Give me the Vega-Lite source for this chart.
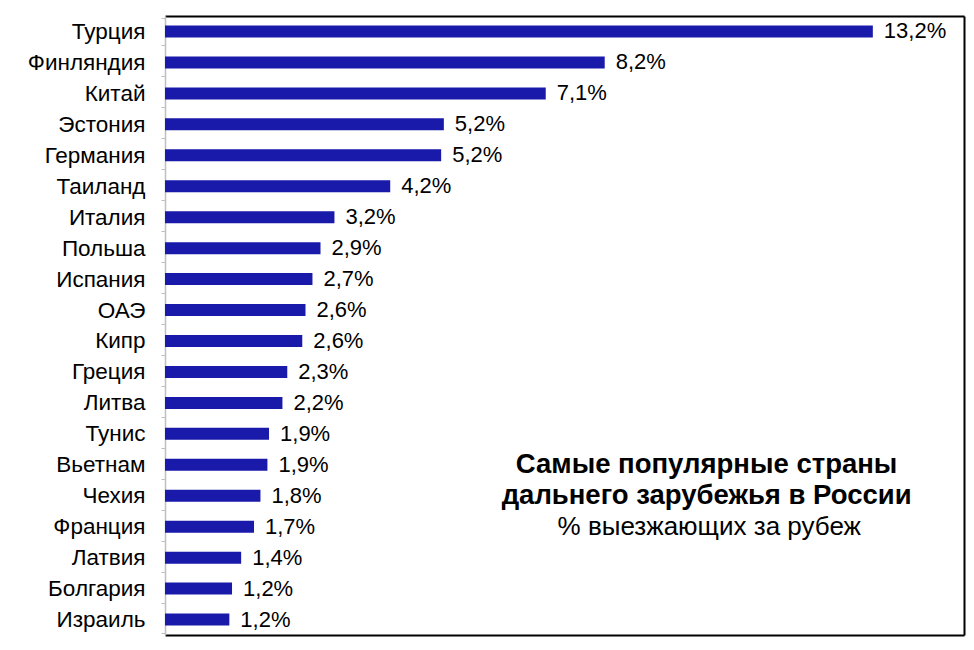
{
  "$schema": "https://vega.github.io/schema/vega-lite/v6.json",
  "width": 799,
  "height": 619,
  "autosize": {"type": "none"},
  "padding": {"left": 165, "top": 16, "right": 10, "bottom": 15},
  "background": "white",
  "data": {
    "values": [
      {"country": "Турция", "share": 13.2, "label": "13,2%"},
      {"country": "Финляндия", "share": 8.2, "label": "8,2%"},
      {"country": "Китай", "share": 7.1, "label": "7,1%"},
      {"country": "Эстония", "share": 5.2, "label": "5,2%"},
      {"country": "Германия", "share": 5.15, "label": "5,2%"},
      {"country": "Таиланд", "share": 4.2, "label": "4,2%"},
      {"country": "Италия", "share": 3.16, "label": "3,2%"},
      {"country": "Польша", "share": 2.9, "label": "2,9%"},
      {"country": "Испания", "share": 2.75, "label": "2,7%"},
      {"country": "ОАЭ", "share": 2.62, "label": "2,6%"},
      {"country": "Кипр", "share": 2.56, "label": "2,6%"},
      {"country": "Греция", "share": 2.28, "label": "2,3%"},
      {"country": "Литва", "share": 2.19, "label": "2,2%"},
      {"country": "Тунис", "share": 1.94, "label": "1,9%"},
      {"country": "Вьетнам", "share": 1.91, "label": "1,9%"},
      {"country": "Чехия", "share": 1.78, "label": "1,8%"},
      {"country": "Франция", "share": 1.66, "label": "1,7%"},
      {"country": "Латвия", "share": 1.42, "label": "1,4%"},
      {"country": "Болгария", "share": 1.25, "label": "1,2%"},
      {"country": "Израиль", "share": 1.2, "label": "1,2%"}
    ]
  },
  "layer": [
    {
      "mark": {"type": "bar", "color": "#1A1AAA", "size": 12},
      "encoding": {
        "y": {
          "field": "country",
          "type": "nominal",
          "sort": null,
          "title": null,
          "axis": {
            "orient": "left",
            "domainColor": "#BFBFBF",
            "domainWidth": 1.5,
            "tickColor": "#BFBFBF",
            "tickSize": 4,
            "tickBand": "extent",
            "labelFont": "Liberation Sans",
            "labelFontSize": 22.5,
            "labelColor": "black",
            "labelPadding": 16
          }
        },
        "x": {
          "field": "share",
          "type": "quantitative",
          "scale": {"domain": [0, 14.9], "nice": false},
          "title": null,
          "axis": {
            "orient": "bottom",
            "domainColor": "black",
            "domainWidth": 2,
            "labels": false,
            "ticks": false,
            "grid": false
          }
        }
      }
    },
    {
      "mark": {
        "type": "text",
        "align": "left",
        "baseline": "middle",
        "dx": 11,
        "font": "Liberation Sans",
        "fontSize": 22,
        "color": "black"
      },
      "encoding": {
        "y": {
          "field": "country",
          "type": "nominal",
          "sort": null,
          "axis": {
            "orient": "right",
            "domainColor": "black",
            "domainWidth": 2,
            "labels": false,
            "ticks": false,
            "title": null,
            "minExtent": 0
          }
        },
        "x": {
          "field": "share",
          "type": "quantitative",
          "axis": {
            "orient": "top",
            "domainColor": "black",
            "domainWidth": 2,
            "labels": false,
            "ticks": false,
            "grid": false,
            "title": null
          }
        },
        "text": {"field": "label"}
      }
    },
    {
      "data": {
        "values": [
          {"text": "Самые популярные страны", "row": "Вьетнам"},
          {"text": "дальнего зарубежья в России", "row": "Чехия"}
        ]
      },
      "mark": {
        "type": "text",
        "align": "center",
        "baseline": "middle",
        "font": "Liberation Sans",
        "fontSize": 27.5,
        "fontWeight": "bold",
        "color": "black"
      },
      "encoding": {
        "y": {"field": "row", "type": "nominal", "sort": null, "axis": null},
        "x": {"datum": 10.1, "type": "quantitative", "axis": null},
        "text": {"field": "text"}
      }
    },
    {
      "data": {
        "values": [
          {"text": "% выезжающих за рубеж", "row": "Франция"}
        ]
      },
      "mark": {
        "type": "text",
        "align": "center",
        "baseline": "middle",
        "font": "Liberation Sans",
        "fontSize": 26,
        "color": "black"
      },
      "encoding": {
        "y": {"field": "row", "type": "nominal", "sort": null, "axis": null},
        "x": {"datum": 10.15, "type": "quantitative", "axis": null},
        "text": {"field": "text"}
      }
    }
  ],
  "resolve": {"axis": {"x": "independent", "y": "independent"}},
  "config": {"view": {"stroke": null}}
}
